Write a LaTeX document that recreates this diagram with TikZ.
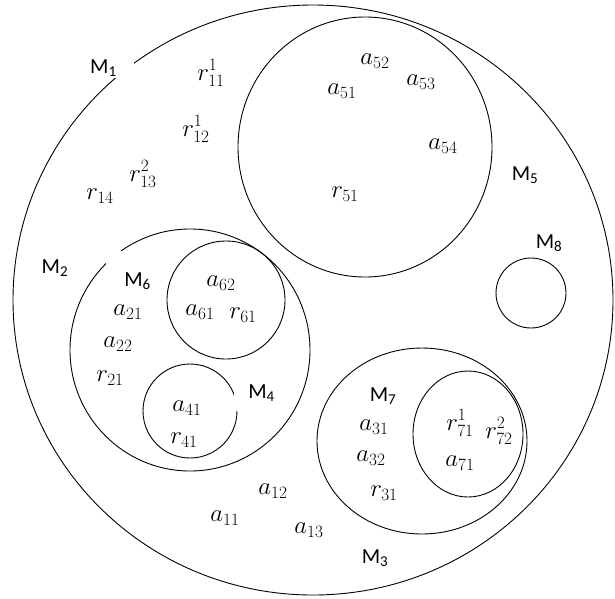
\documentclass[tikz,border=0pt]{standalone}
\usepackage{fontspec}
\newfontfamily\setfont{Carlito}
\tikzset{
  set/.style={line width=0.9pt},
  setname/.style={font=\setfont\fontsize{21.5}{24}\selectfont, fill=white, inner sep=1pt},
  elem/.style={font=\fontsize{23}{26}\selectfont, inner sep=1pt}
}

\begin{document}
\begin{tikzpicture}[x=1pt, y=-1pt]
\useasboundingbox (0,0) rectangle (615,598);

% Sets
\coordinate (c1) at (313,300);
\coordinate (c5) at (365,147);
\coordinate (c8) at (531,293);
\coordinate (c2) at (190,350);
\coordinate (c6) at (226,300);
\coordinate (c4) at (190,411);
\coordinate (c3) at (422,441);
\coordinate (c7) at (468,434);
\draw[set] (c1) ellipse [x radius=300, y radius=295];
\draw[set] (c5) ellipse [x radius=127, y radius=130];
\draw[set] (c8) circle [radius=35];
\draw[set] (c2) ellipse [x radius=120, y radius=121];
\draw[set] (c6) circle [radius=59];
\draw[set] (c4) circle [radius=47];
\draw[set] (c3) ellipse [x radius=105, y radius=93];
\draw[set] (c7) ellipse [x radius=55, y radius=63];

% Set names
\node[setname, anchor=west, text width=43pt, align=left, minimum height=20pt] (m1) at (89,68) {M\textsubscript{1}};
\node[setname] (m2) at (55,268) {M\textsubscript{2}};
\node[setname] (m3) at (375,558) {M\textsubscript{3}};
\node[setname, anchor=east, text width=40pt, align=right, minimum height=36pt] (m4) at (276,393) {M\textsubscript{4}};
\node[setname] (m5) at (525,175) {M\textsubscript{5}};
\node[setname, anchor=east, text width=44pt, align=right, minimum height=60pt] (m6) at (152,281) {M\textsubscript{6}};
\node[setname] (m7) at (383,396) {M\textsubscript{7}};
\node[setname] (m8) at (549,243) {M\textsubscript{8}};

% Elements of M1
\node[elem] (r111) at (211,73) {$r_{11}^{1}$};
\node[elem] (r121) at (196,129) {$r_{12}^{1}$};
\node[elem] (r132) at (143,174) {$r_{13}^{2}$};
\node[elem] (r14) at (100,196) {$r_{14}$};
\node[elem] (a11) at (225,518) {$a_{11}$};
\node[elem] (a12) at (273,491) {$a_{12}$};
\node[elem] (a13) at (309,530) {$a_{13}$};

% Elements of M5
\node[elem] (a51) at (342,91) {$a_{51}$};
\node[elem] (a52) at (375,61) {$a_{52}$};
\node[elem] (a53) at (421,82) {$a_{53}$};
\node[elem] (a54) at (443,146) {$a_{54}$};
\node[elem] (r51) at (345,194) {$r_{51}$};

% Elements of M2, M6, M4
\node[elem] (a21) at (128,312) {$a_{21}$};
\node[elem] (a22) at (118,344) {$a_{22}$};
\node[elem] (r21) at (110,378) {$r_{21}$};
\node[elem] (a62) at (221,283) {$a_{62}$};
\node[elem] (a61) at (200,312) {$a_{61}$};
\node[elem] (r61) at (243,315) {$r_{61}$};
\node[elem] (a41) at (187,408) {$a_{41}$};
\node[elem] (r41) at (184,440) {$r_{41}$};

% Elements of M3, M7
\node[elem] (a31) at (374,427) {$a_{31}$};
\node[elem] (a32) at (371,458) {$a_{32}$};
\node[elem] (r31) at (384,493) {$r_{31}$};
\node[elem] (r711) at (460,423) {$r_{71}^{1}$};
\node[elem] (r722) at (499,431) {$r_{72}^{2}$};
\node[elem] (a71) at (460,463) {$a_{71}$};
\end{tikzpicture}
\end{document}
